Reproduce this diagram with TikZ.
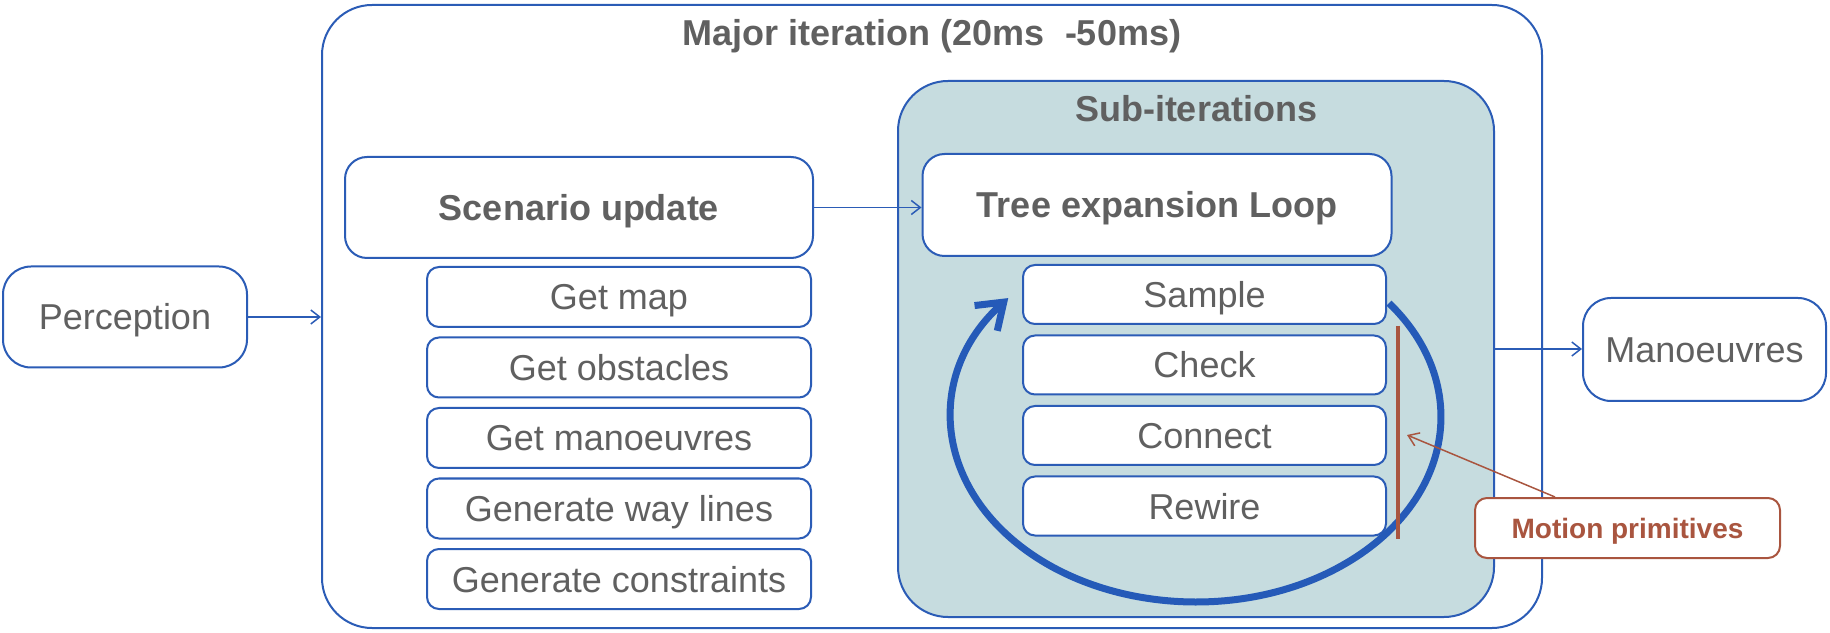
\documentclass[tikz,border=0pt]{standalone}
\usepackage{fontspec}
\setmainfont{Liberation Sans}
\usepackage{tikz}
\usetikzlibrary{positioning, arrows.meta}
\definecolor{boxblue}{HTML}{2B5CB6}
\definecolor{loopblue}{HTML}{255AB8}
\definecolor{subfill}{HTML}{C6DCDF}
\definecolor{textgray}{HTML}{606060}
\definecolor{mpbrown}{HTML}{A9553F}

\tikzset{
  box/.style={draw=boxblue, line width=2pt, fill=white, rounded corners=12pt,
              text=textgray, font=\fontsize{36}{40}\selectfont, inner sep=0pt,
              text height=26pt, text depth=0pt},
  bigbox/.style={box, rounded corners=22pt, font=\bfseries\fontsize{36}{40}\selectfont},
  endbox/.style={box, rounded corners=28pt, minimum width=244pt, minimum height=102pt},
  stepbox/.style={box, minimum width=384pt, minimum height=60pt},
  frame/.style={draw=boxblue, line width=2pt, rounded corners=50pt},
  title/.style={anchor=base, text=textgray, font=\bfseries\fontsize{36}{40}\selectfont},
  link/.style={draw=boxblue, line width=1.5pt, -{Straight Barb[length=9pt,width=14pt]}},
}

\begin{document}
\begin{tikzpicture}[x=1pt, y=1pt]
  \useasboundingbox (0,0) rectangle (1830,632);

  % containers
  \node[frame, fill=white, minimum width=1220pt, minimum height=623pt] (major) at (932,315.5) {};
  \node[title] at ([yshift=-42pt]major.north) {Major iteration (20ms\ \ -50ms)};
  \node[frame, fill=subfill, minimum width=596pt, minimum height=536pt] (sub) at (1196,283) {};
  \node[title] at ([yshift=-42pt]sub.north) {Sub-iterations};

  % scenario update column
  \node[bigbox, minimum width=468pt, minimum height=101pt] (scenario) at (579,424.5) {Scenario update};
  \node[stepbox] (getmap) at (619,335) {Get map};
  \node[stepbox, below=8.5pt of getmap] (getobst) {Get obstacles};
  \node[stepbox, below=8.5pt of getobst] (getman) {Get manoeuvres};
  \node[stepbox, below=8.5pt of getman] (genway) {Generate way lines};
  \node[stepbox, below=8.5pt of genway] (gencons) {Generate constraints};

  % tree expansion column
  \node[bigbox, minimum width=469pt, minimum height=102pt] (tree) at (1157,427) {Tree expansion Loop};
  \node[stepbox, minimum width=363pt, minimum height=59pt] (sample) at (1204.5,337.5) {Sample};
  \node[stepbox, minimum width=363pt, minimum height=59pt, below=9.5pt of sample] (check) {Check};
  \node[stepbox, minimum width=363pt, minimum height=59pt, below=9.5pt of check] (connect) {Connect};
  \node[stepbox, minimum width=363pt, minimum height=59pt, below=9.5pt of connect] (rewire) {Rewire};

  % input / output
  \node[endbox, minimum height=101pt] (perception) at (125,315) {Perception};
  \node[endbox, minimum width=243pt, minimum height=103pt] (manoeuvres) at (1704.5,282.5) {Manoeuvres};
  \node[box, draw=mpbrown, text=mpbrown, font=\bfseries\fontsize{28}{32}\selectfont,
        text height=20pt, minimum width=305pt, minimum height=60pt] (motion) at (1627.5,104) {Motion primitives};

  \draw[link] (perception.east) -- (perception.east -| major.west);
  \draw[link] (scenario.east) -- (scenario.east -| tree.west);
  \draw[link] (sub.east) -- (sub.east -| manoeuvres.west);

  % loop arrow
  \coordinate (loopstart) at (1389,328.9);
  \draw[loopblue, line width=7pt, -{Straight Barb[length=24pt,width=34pt]}]
    (loopstart) arc[start angle=38, end angle=-220, x radius=245pt, y radius=185pt];

  % motion primitives marker
  \coordinate (mptop) at (1398,306);
  \coordinate (mpbot) at (1398,93);
  \coordinate (mphead) at (1407,197);
  \draw[mpbrown, line width=4pt] (mptop) -- (mpbot);
  \draw[mpbrown, line width=1.5pt, -{Straight Barb[length=10pt,width=14pt]}]
    ([xshift=-72.5pt]motion.north) -- (mphead);
\end{tikzpicture}
\end{document}
